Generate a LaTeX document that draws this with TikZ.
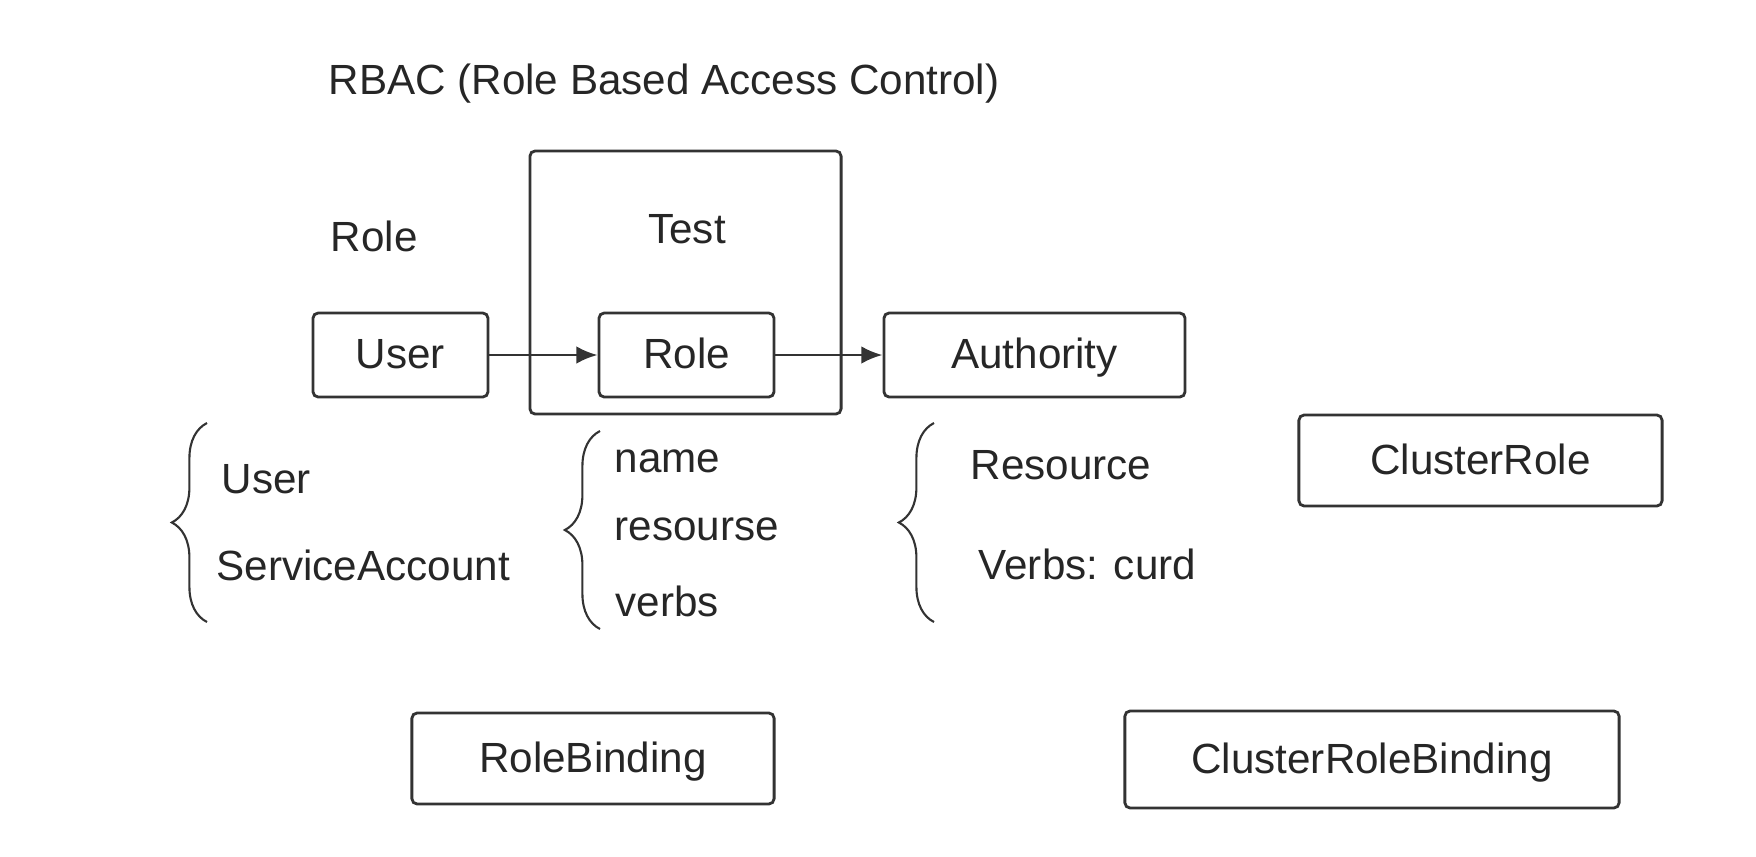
\documentclass[tikz,border=0pt]{standalone}
\usepackage{fontspec}
\setmainfont{Liberation Sans}
\usetikzlibrary{arrows,arrows.meta,decorations.pathreplacing}

\begin{document}
\begin{tikzpicture}
[x=0.01cm,y=-0.01cm,
 box/.style={draw=black!80,line width=0.8pt,rounded corners=1.5pt,inner
    sep=0pt,minimum height=0.84cm,text height=1.7ex,text depth=0.2ex,
    text=black!85,font=\fontsize{12}{14}\selectfont},
 txt/.style={inner sep=0pt,anchor=base west,text=black!85,font=\fontsize{12}{14}\selectfont},
 brc/.style={draw=black!80,line width=0.6pt,decorate,decoration={brace,amplitude=10pt}}]
\useasboundingbox (0,0) rectangle (1756,857);

\node[txt] (title) at (328,94) {RBAC (Role Based Access Control)};
\node[txt] (rolelbl) at (330,251) {Role};

\node[box,minimum width=3.11cm,minimum height=2.63cm] (test) at (685.5,282.5) {};
\node[txt,anchor=base] (testlbl) at (687,243) {Test};

\node[box,minimum width=1.75cm] (user) at (400.5,355) {User};
\node[box,minimum width=1.75cm] (role) at (686.5,355) {Role};
\node[box,minimum width=3.01cm] (auth) at (1034.5,355) {Authority};

\node[box,minimum width=3.63cm,minimum height=0.91cm] (crole) at (1480.5,460.5) {ClusterRole};
\node[box,minimum width=3.62cm,minimum height=0.91cm] (rb) at (593,758.5) {RoleBinding};
\node[box,minimum width=4.94cm,minimum height=0.97cm] (crb) at (1372,759.5) {ClusterRoleBinding};

\draw [-{Latex[length=6pt,width=5pt]},line width=0.8pt,black!80] (user) -- (role);
\draw [-{Latex[length=6pt,width=5pt]},line width=0.8pt,black!80] (role) -- (auth);

% subjects
\coordinate (b1s) at (207,622);
\coordinate (b1e) at (207,423);
\draw [brc] (b1s) -- (b1e);
\node[txt] (subuser) at (221,493) {User};
\node[txt] (subsa) at (216,580) {ServiceAccount};

% role fields
\coordinate (b2s) at (600,629);
\coordinate (b2e) at (600,431);
\draw [brc] (b2s) -- (b2e);
\node[txt] (fname) at (614,472) {name};
\node[txt] (fres) at (614,540) {resourse};
\node[txt] (fverbs) at (615,616) {verbs};

% authority
\coordinate (b3s) at (934,622);
\coordinate (b3e) at (934,423);
\draw [brc] (b3s) -- (b3e);
\node[txt] (ares) at (970,479) {Resource};
\node[txt] (averbs) at (978,579) {Verbs: curd};
\end{tikzpicture}
\end{document}
